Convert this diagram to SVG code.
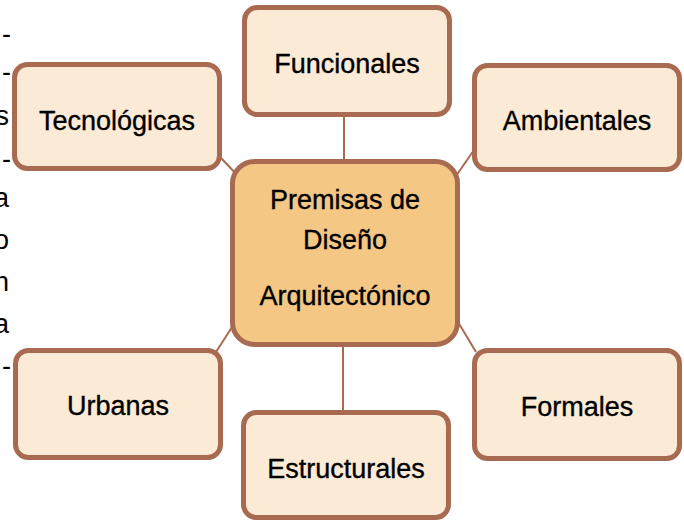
<svg xmlns="http://www.w3.org/2000/svg" width="684" height="520" viewBox="0 0 684 520">
<style>
.box{fill:#fbebd6;stroke:#a86a50;stroke-width:5}
.main{fill:#f4c784;stroke:#a86a50;stroke-width:5}
.lbl{font-family:"Liberation Sans",Arial,sans-serif;font-size:27px;fill:#000;stroke:#000;stroke-width:0.35;text-anchor:middle}
.frag{font-family:"Liberation Sans",Arial,sans-serif;font-size:27px;fill:#000;text-anchor:end}
.conn{stroke:#a86a50;stroke-width:2;fill:none}
</style>
<rect width="684" height="520" fill="#ffffff"/>
<g id="page-fragments">
<text class="frag" x="11" y="43">-</text>
<text class="frag" x="11" y="81">-</text>
<text class="frag" x="9" y="125">s</text>
<text class="frag" x="11" y="168">-</text>
<text class="frag" x="9" y="207">a</text>
<text class="frag" x="9" y="249">o</text>
<text class="frag" x="9" y="291">n</text>
<text class="frag" x="9" y="333">a</text>
<text class="frag" x="11" y="375">-</text>
</g>
<g id="connectors">
<line class="conn" x1="344" y1="117" x2="344" y2="160"/>
<line class="conn" x1="343" y1="346" x2="343" y2="411"/>
<line class="conn" x1="221" y1="158" x2="240" y2="178"/>
<line class="conn" x1="474" y1="150" x2="456" y2="176"/>
<line class="conn" x1="216" y1="352" x2="234" y2="324"/>
<line class="conn" x1="476" y1="352" x2="458" y2="322"/>
</g>
<g id="funcionales">
<rect class="box" x="244.5" y="7.5" width="205" height="107" rx="13"/>
<text class="lbl" x="347" y="73">Funcionales</text>
</g>
<g id="tecnologicas">
<rect class="box" x="14.5" y="64.5" width="205" height="104" rx="13"/>
<text class="lbl" x="117" y="130">Tecnológicas</text>
</g>
<g id="ambientales">
<rect class="box" x="474.5" y="65.5" width="205" height="104" rx="13"/>
<text class="lbl" x="577" y="130">Ambientales</text>
</g>
<g id="premisas">
<rect class="main" x="232.5" y="161.5" width="225" height="183" rx="22"/>
<text class="lbl" x="345" y="209">Premisas de</text>
<text class="lbl" x="345" y="249">Diseño</text>
<text class="lbl" x="345" y="305">Arquitectónico</text>
</g>
<g id="urbanas">
<rect class="box" x="15.5" y="350.5" width="205" height="107" rx="13"/>
<text class="lbl" x="118" y="415">Urbanas</text>
</g>
<g id="formales">
<rect class="box" x="474.5" y="350.5" width="205" height="108" rx="13"/>
<text class="lbl" x="577" y="416">Formales</text>
</g>
<g id="estructurales">
<rect class="box" x="243.5" y="412.5" width="205" height="105" rx="13"/>
<text class="lbl" x="346" y="478">Estructurales</text>
</g>
</svg>
